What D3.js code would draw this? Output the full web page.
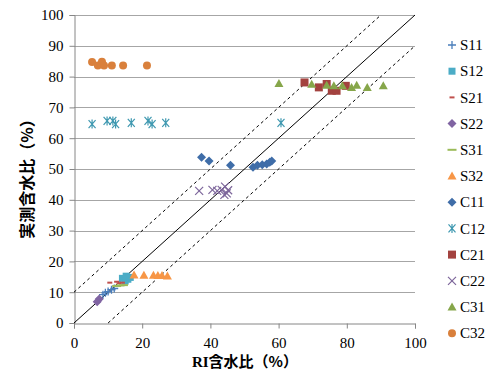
<!DOCTYPE html>
<html>
<head>
<meta charset="utf-8">
<script src="https://cdn.jsdelivr.net/npm/d3@7"></script>
<style>
  html, body { margin: 0; padding: 0; background: #fff; }
  svg { display: block; }
</style>
</head>
<body>
<svg id="chart" width="494" height="376"></svg>
<script>
// Axis ticks
const xTicks = [0, 20, 40, 60, 80, 100];
const yTicks = [0, 10, 20, 30, 40, 50, 60, 70, 80, 90, 100];

// Series names (legend order)
const seriesNames = ["S11", "S12", "S21", "S22", "S31", "S32", "C11", "C12", "C21", "C22", "C31", "C32"];

// [RI water content, measured water content]
const S11 = [[8.5, 9.2], [9.2, 9.8], [10.0, 10.2], [11.0, 10.8], [11.8, 11.2]];
const S12 = [[14.2, 14.5], [15.0, 13.6], [15.8, 14.2], [16.5, 14.8], [15.3, 15.2]];
const S21 = [[10.5, 13.1], [12.5, 13.4], [13.2, 12.9], [14.2, 13.1]];
const S22 = [[6.8, 6.9], [7.4, 7.8]];
const S31 = [[12.5, 12.0], [13.5, 12.2], [14.5, 12.3]];
const S32 = [[17.6, 15.6], [20.5, 15.5], [23.3, 15.5], [24.6, 15.4], [25.8, 15.4], [27.4, 15.3]];
const C11 = [[37.4, 53.8], [39.6, 52.6], [45.9, 51.2], [52.5, 50.6], [53.8, 51.2], [55.2, 51.4], [56.5, 51.6], [57.4, 52.2], [58.0, 52.6]];
const C12 = [[5.3, 64.6], [9.7, 65.6], [11.4, 65.6], [12.2, 64.6], [16.8, 65.0], [21.7, 65.6], [22.9, 64.6], [26.9, 65.0], [60.7, 65.0]];
const C21 = [[67.6, 78.1], [71.8, 76.5], [74.1, 77.6], [75.6, 75.4], [77.0, 75.4], [79.7, 77.0]];
const C22 = [[36.7, 42.9], [40.6, 43.2], [42.0, 42.9], [43.3, 43.2], [44.3, 44.3], [44.8, 42.1], [45.2, 43.1], [44.1, 41.6]];
const C31 = [[60.1, 77.8], [69.7, 77.5], [74.1, 77.2], [76.2, 77.0], [78.7, 77.0], [81.4, 76.5], [82.9, 77.2], [86.0, 76.5], [90.7, 77.0]];
const C32 = [[5.3, 84.7], [7.0, 83.6], [8.2, 84.8], [8.8, 83.6], [11.1, 83.6], [14.4, 83.6], [21.4, 83.6]];

const seriesData = [S11, S12, S21, S22, S31, S32, C11, C12, C21, C22, C31, C32];
const seriesColors = ["#4A7EBB", "#4BACC6", "#C0504D", "#8064A2", "#9BBB59", "#F79646",
                      "#3F6DA8", "#3E98B0", "#A3423F", "#7D669B", "#86A64A", "#D9803C"];
const seriesShapes = ["plus", "square", "dashShort", "diamond", "dash", "triangle",
                      "diamond", "asterisk", "squareBig", "cross", "triangle", "circle"];

// Reference lines: y = x and ±10 bands
const refLines = [
  { pts: [[0, 0], [100, 100]], dash: null },
  { pts: [[0, 10], [90, 100]], dash: "3,3" },
  { pts: [[10, 0], [100, 90]], dash: "3,3" }
];

const svg = d3.select("#chart");
const plot = { left: 74, right: 415, top: 15, bottom: 323 };

const x = d3.scaleLinear().domain([0, 100]).range([plot.left, plot.right]);
const y = d3.scaleLinear().domain([0, 100]).range([plot.bottom, plot.top]);

const serif = "'Liberation Serif', 'Times New Roman', serif";
const cjk = "'Noto Sans CJK JP', 'Noto Sans CJK SC', sans-serif";

svg.append("rect").attr("width", 494).attr("height", 376).attr("fill", "#fff");

// Horizontal gridlines
svg.append("g")
  .selectAll("line")
  .data(yTicks.filter(d => d > 0))
  .join("line")
  .attr("x1", plot.left).attr("x2", plot.right)
  .attr("y1", d => Math.round(y(d)) + 0.5).attr("y2", d => Math.round(y(d)) + 0.5)
  .attr("stroke", "#a6a6a6").attr("stroke-width", 1);

// Axes
const xAxis = d3.axisBottom(x).tickValues(xTicks).tickSize(5).tickPadding(6);
const yAxis = d3.axisLeft(y).tickValues(yTicks).tickSize(5).tickPadding(6);

const gx = svg.append("g").attr("transform", `translate(0,${Math.round(plot.bottom) + 0.5})`).call(xAxis);
const gy = svg.append("g").attr("transform", `translate(${plot.left + 0.5},0)`).call(yAxis);
[gx, gy].forEach(g => {
  g.select(".domain").attr("stroke", "#868686");
  g.selectAll(".tick line").attr("stroke", "#868686");
  g.selectAll(".tick text").attr("font-family", serif).attr("font-size", 15).attr("fill", "#000");
});
gx.selectAll(".tick text").attr("dy", "0.9em");

// Reference lines
const line = d3.line().x(d => x(d[0])).y(d => y(d[1]));
svg.append("g")
  .selectAll("path")
  .data(refLines)
  .join("path")
  .attr("d", d => line(d.pts))
  .attr("fill", "none")
  .attr("stroke", "#000")
  .attr("stroke-width", 1)
  .attr("stroke-dasharray", d => d.dash);

// Marker drawing
function drawMarker(g, shape, color) {
  switch (shape) {
    case "plus":
      g.append("path").attr("d", "M-4,0H4M0,-4V4").attr("stroke", color).attr("stroke-width", 1.3).attr("fill", "none");
      break;
    case "square":
      g.append("rect").attr("x", -3.5).attr("y", -3.5).attr("width", 7).attr("height", 7).attr("fill", color);
      break;
    case "squareBig":
      g.append("rect").attr("x", -4).attr("y", -4).attr("width", 8).attr("height", 8).attr("fill", color);
      break;
    case "dashShort":
      g.append("path").attr("d", "M-2.5,0H2.5").attr("stroke", color).attr("stroke-width", 2).attr("fill", "none");
      break;
    case "dash":
      g.append("path").attr("d", "M-4.5,0H4.5").attr("stroke", color).attr("stroke-width", 2).attr("fill", "none");
      break;
    case "diamond":
      g.append("path").attr("d", "M0,-4.5L4.5,0L0,4.5L-4.5,0Z").attr("fill", color);
      break;
    case "triangle":
      g.append("path").attr("d", "M0,-4.5L4.5,3.5L-4.5,3.5Z").attr("fill", color);
      break;
    case "circle":
      g.append("circle").attr("r", 4).attr("fill", color);
      break;
    case "cross":
      g.append("path").attr("d", "M-4,-4L4,4M-4,4L4,-4").attr("stroke", color).attr("stroke-width", 1.2).attr("fill", "none");
      break;
    case "asterisk":
      g.append("path").attr("d", "M-3.5,-4L3.5,4M-3.5,4L3.5,-4M0,-4.5V4.5").attr("stroke", color).attr("stroke-width", 1.2).attr("fill", "none");
      break;
  }
}

// Data points
seriesData.forEach((data, i) => {
  const g = svg.append("g").attr("class", "series-" + seriesNames[i]);
  data.forEach(d => {
    const m = g.append("g").attr("transform", `translate(${x(d[0])},${y(d[1])})`);
    drawMarker(m, seriesShapes[i], seriesColors[i]);
  });
});

// Legend
const legend = svg.append("g");
seriesNames.forEach((name, i) => {
  const ly = 45 + i * 26.2;
  const m = legend.append("g").attr("transform", `translate(452,${ly})`);
  drawMarker(m, seriesShapes[i], seriesColors[i]);
  legend.append("text")
    .attr("x", 460).attr("y", ly).attr("dy", "0.35em")
    .attr("font-family", serif).attr("font-size", 15).attr("fill", "#000")
    .text(name);
});

// Axis titles
const xt = svg.append("text")
  .attr("x", 245).attr("y", 367)
  .attr("text-anchor", "middle")
  .attr("font-weight", "bold").attr("font-size", 15).attr("fill", "#000");
xt.append("tspan").attr("font-family", serif).text("RI");
xt.append("tspan").attr("font-family", cjk).text("含水比（%）");

svg.append("text")
  .attr("transform", `translate(33,${(plot.top + plot.bottom) / 2 + 6}) rotate(-90)`)
  .attr("text-anchor", "middle")
  .attr("font-family", cjk)
  .attr("font-weight", "bold").attr("font-size", 16).attr("fill", "#000")
  .text("実測含水比（%）");
</script>
</body>
</html>
